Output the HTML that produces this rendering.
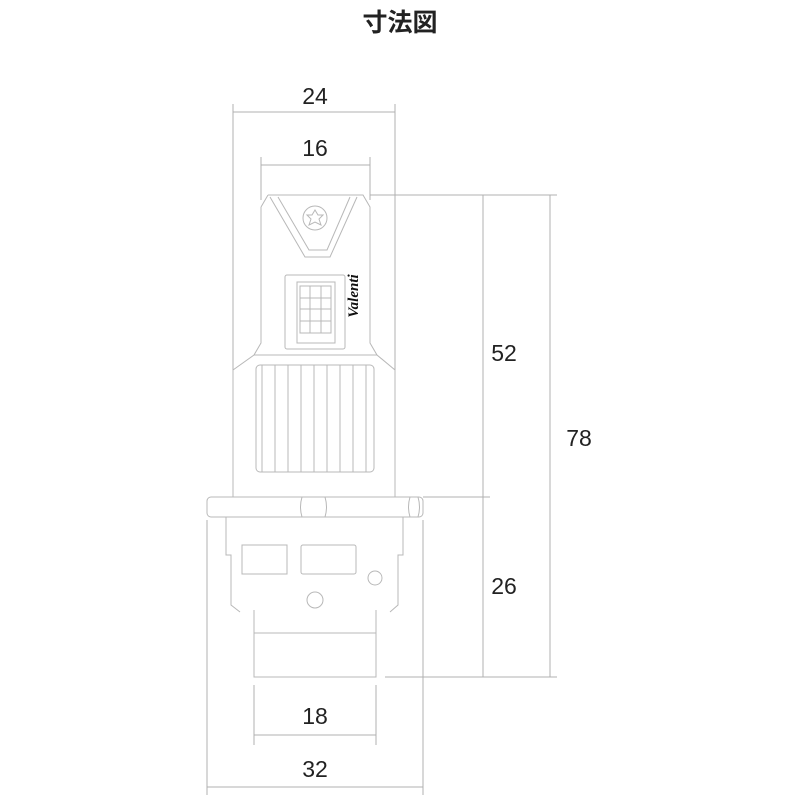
<!DOCTYPE html>
<html><head><meta charset="utf-8"><style>
html,body{margin:0;padding:0;background:#fff;}
svg{display:block}
text{font-family:"Liberation Sans","Noto Sans CJK JP",sans-serif;fill:#222;}
</style></head><body>
<svg width="800" height="800" viewBox="0 0 800 800" xmlns="http://www.w3.org/2000/svg">
<text x="400" y="31" font-size="25" font-weight="bold" text-anchor="middle" style="font-family:'Noto Sans CJK JP',sans-serif">寸法図</text>
<g stroke="#b0b0b0" stroke-width="1" fill="none">
<line x1="233" y1="104" x2="233" y2="370"/><line x1="395" y1="104" x2="395" y2="370"/>
<line x1="233" y1="112" x2="395" y2="112"/>
<line x1="261" y1="157" x2="261" y2="200"/><line x1="370" y1="157" x2="370" y2="200"/>
<line x1="261" y1="165" x2="370" y2="165"/>
<line x1="370" y1="195" x2="557" y2="195"/>
<line x1="423" y1="497" x2="490" y2="497"/>
<line x1="385" y1="677" x2="557" y2="677"/>
<line x1="483" y1="195" x2="483" y2="677"/>
<line x1="550" y1="195" x2="550" y2="677"/>
<line x1="254" y1="685" x2="254" y2="745"/><line x1="376" y1="685" x2="376" y2="745"/>
<line x1="254" y1="735" x2="376" y2="735"/>
<line x1="207" y1="520" x2="207" y2="795"/><line x1="423" y1="520" x2="423" y2="795"/>
<line x1="207" y1="787" x2="423" y2="787"/>
</g>
<g stroke="#b8b8b8" stroke-width="1" fill="none">
<path d="M268 195 L363 195 L370 207 L370 343 L377 355 L395 370 L395 497 M261 207 L268 195 M261 207 L261 343 L254 355 L233 370 L233 497"/>
<line x1="254" y1="355" x2="377" y2="355"/>
<path d="M270 197 L305 257 L330 257 L357 197"/>
<path d="M278 197 L309 250 L327 250 L350 197"/>
<circle cx="315" cy="218" r="12"/>
<path d="M315 210 L318 215 L323 215 L319 219 L321 225 L315 222 L309 225 L311 219 L307 215 L312 215 Z"/>
<rect x="285" y="275" width="60" height="74" rx="2"/>
<rect x="297" y="282" width="38" height="61"/>
<rect x="300" y="286" width="31" height="47"/>
<line x1="310" y1="286" x2="310" y2="333"/><line x1="321" y1="286" x2="321" y2="333"/>
<line x1="300" y1="298" x2="331" y2="298"/><line x1="300" y1="309" x2="331" y2="309"/><line x1="300" y1="321" x2="331" y2="321"/>
<rect x="256" y="365" width="118" height="107" rx="4"/>
<line x1="262" y1="365" x2="262" y2="472"/><line x1="275" y1="365" x2="275" y2="472"/><line x1="288" y1="365" x2="288" y2="472"/><line x1="301" y1="365" x2="301" y2="472"/><line x1="314" y1="365" x2="314" y2="472"/><line x1="327" y1="365" x2="327" y2="472"/><line x1="340" y1="365" x2="340" y2="472"/><line x1="353" y1="365" x2="353" y2="472"/><line x1="366" y1="365" x2="366" y2="472"/>
<rect x="207" y="497" width="216" height="20" rx="4"/>
<path d="M302 497 Q299 507 302 517 M325 497 Q328 507 325 517 M410 497 Q407 507 410 517 M418 497 Q421 507 418 517"/>
<path d="M226 517 L226 555 L231 555 L231 605 L240 612 M403 517 L403 555 L398 555 L398 605 L390 612"/>
<rect x="242" y="545" width="45" height="29"/>
<rect x="301" y="545" width="55" height="29" rx="2"/>
<circle cx="375" cy="578" r="7"/>
<circle cx="315" cy="600" r="8"/>
<path d="M254 610 L254 677 L376 677 L376 610 M254 633 L376 633"/>
</g>
<text x="358" y="296" font-size="15" font-style="italic" font-weight="bold" transform="rotate(-90 358 296)" text-anchor="middle" style="font-family:'Liberation Serif',serif;fill:#111">Valenti</text>
<g font-size="23" text-anchor="middle">
<text x="315" y="104">24</text>
<text x="315" y="156">16</text>
<text x="504" y="361">52</text>
<text x="504" y="594">26</text>
<text x="579" y="446">78</text>
<text x="315" y="724">18</text>
<text x="315" y="777">32</text>
</g>
</svg>
</body></html>
